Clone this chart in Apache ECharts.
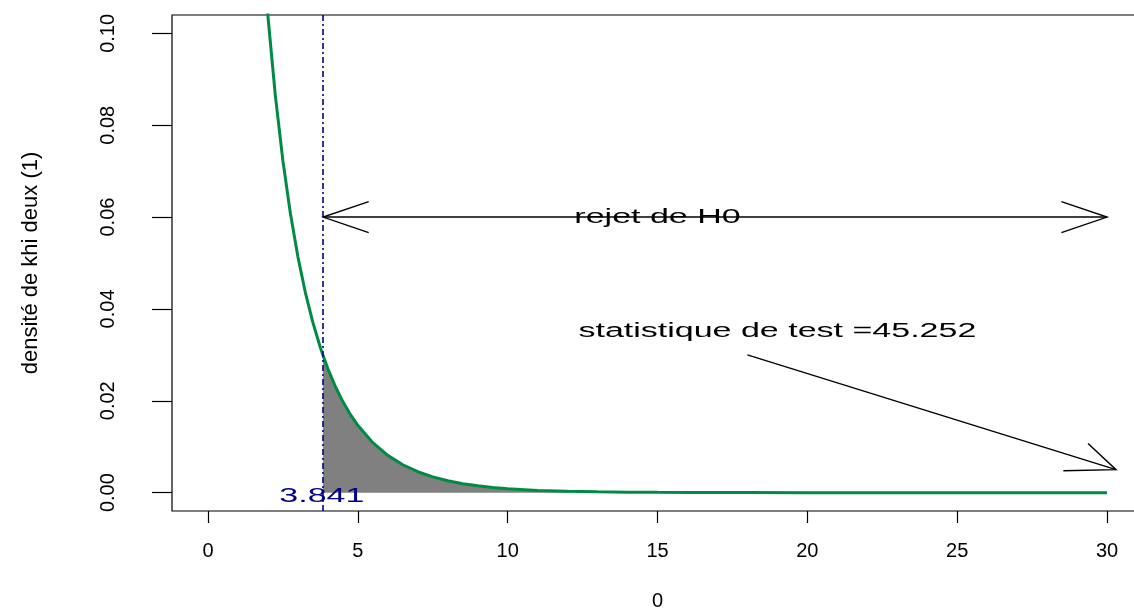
<!DOCTYPE html>
<html><head><meta charset="utf-8">
<script src="https://cdn.jsdelivr.net/npm/echarts@6/dist/echarts.min.js"></script>
<style>html,body{margin:0;padding:0;background:#fff}#c{width:1134px;height:609px}</style>
</head><body><div id="c"></div>
<script>
// chi-square (1 df) density
var xs   = [1.5, 1.75, 2, 2.25, 2.5, 2.75, 3, 3.25, 3.5, 3.75, 3.841, 4, 4.25, 4.5, 4.75, 5, 5.5, 6, 6.5, 7, 7.5, 8, 8.5, 9, 9.5, 10, 11, 12, 13, 14, 15, 16, 18, 20, 25, 30];
var dens = [0.15387, 0.12571, 0.10378, 0.08634, 0.07229, 0.06083, 0.05139, 0.04357, 0.03706, 0.03159, 0.02983, 0.02700, 0.02311, 0.01982, 0.01703, 0.01465, 0.01087, 0.00811, 0.00607, 0.00455, 0.00343, 0.00258, 0.00195, 0.00148, 0.00112, 0.00085, 0.00049, 0.00029, 0.00017, 0.00010, 0.00006, 0.00003, 0.00001, 0, 0, 0];
var criticalValue = 3.841;
var xTicks = [0, 5, 10, 15, 20, 25, 30];
var yTicks = [0, 0.02, 0.04, 0.06, 0.08, 0.10];
var yTickLabels = ['0.00', '0.02', '0.04', '0.06', '0.08', '0.10'];
var xTitle = '0';
var yTitle = 'densité de khi deux (1)';
var noteTexts = ['rejet de H0', 'statistique de test =45.252', '3.841'];
var noteX = [15, 19, 3.8];
var noteY = [0.06, 0.035, -0.0008];
var arrowFrom = [[3.841, 0.06], [18, 0.03]];
var arrowTo   = [[30, 0.06], [30.3, 0.005]];
var arrowBoth = [true, false];

var FONT = '"Liberation Sans", Arial, Helvetica, sans-serif';
var STRETCH = 1.7;   // horizontal stretch of the reference's text/arrowheads
var HEAD = 31;       // arrowhead length (unstretched px)

var curve = xs.map(function (x, i) { return [x, dens[i]]; });
var tail = curve.filter(function (p) { return p[0] >= criticalValue; });

function head(tip, from) {
  var dx = (from[0] - tip[0]) / STRETCH, dy = from[1] - tip[1];
  var len = Math.sqrt(dx * dx + dy * dy); dx /= len; dy /= len;
  var a = Math.PI / 6, pts = [];
  [a, -a].forEach(function (t) {
    var rx = dx * Math.cos(t) - dy * Math.sin(t);
    var ry = dx * Math.sin(t) + dy * Math.cos(t);
    pts.push([tip[0] + rx * HEAD * STRETCH, tip[1] + ry * HEAD]);
  });
  return { type: 'polyline', shape: { points: [pts[0], tip, pts[1]] },
           style: { stroke: '#000', lineWidth: 1.4, fill: null } };
}

var chart = echarts.init(document.getElementById('c'));
chart.setOption({
  animation: false,
  backgroundColor: '#fff',
  grid: { left: 172, width: 971, top: 15, bottom: 98, outerBoundsMode: 'none', containLabel: false,
          show: true, borderColor: '#000', borderWidth: 1.2, backgroundColor: 'transparent' },
  xAxis: {
    type: 'value', min: -1.2, max: 31.2,
    name: xTitle, nameLocation: 'middle', nameGap: 80,
    nameTextStyle: { color: '#000', fontSize: 20, fontFamily: FONT },
    axisLine: { show: false, onZero: false },
    splitLine: { show: false },
    axisTick: { show: true, length: 12, customValues: xTicks, lineStyle: { color: '#000', width: 1.2 } },
    axisLabel: { customValues: xTicks, margin: 30, color: '#000', fontSize: 20, fontFamily: FONT }
  },
  yAxis: {
    type: 'value', min: -0.004, max: 0.104,
    name: yTitle, nameLocation: 'middle', nameGap: 130, nameRotate: 90,
    nameTextStyle: { color: '#000', fontSize: 22, fontFamily: FONT },
    axisLine: { show: false, onZero: false },
    splitLine: { show: false },
    axisTick: { show: true, length: 20, customValues: yTicks, lineStyle: { color: '#000', width: 1.2 } },
    axisLabel: { customValues: yTicks, rotate: 90, margin: 54, color: '#000', fontSize: 20, fontFamily: FONT,
      formatter: function (v) { var i = yTicks.findIndex(function (t) { return Math.abs(t - v) < 1e-9; }); return i >= 0 ? yTickLabels[i] : ''; } }
  },
  series: [
    { type: 'line', data: tail, showSymbol: false, symbol: 'none', z: 1,
      lineStyle: { width: 0 }, areaStyle: { color: '#808080', opacity: 1 } },
    { type: 'line', data: curve, showSymbol: false, symbol: 'none', z: 3, clip: true,
      lineStyle: { color: '#008B45', width: 3 },
      markLine: { symbol: 'none', silent: true, label: { show: false },
        lineStyle: { color: '#00008B', width: 1.6, type: [6, 3, 2, 3] },
        data: [{ xAxis: criticalValue }] } },
    { type: 'custom', z: 5, silent: true,
      data: arrowFrom.map(function (a, i) { return [a[0], a[1], arrowTo[i][0], arrowTo[i][1]]; }),
      encode: { x: [0, 2], y: [1, 3] },
      renderItem: function (params, api) {
        var p1 = api.coord([api.value(0), api.value(1)]);
        var p2 = api.coord([api.value(2), api.value(3)]);
        var ch = [{ type: 'line', shape: { x1: p1[0], y1: p1[1], x2: p2[0], y2: p2[1] },
                    style: { stroke: '#000', lineWidth: 1.4 } }, head(p2, p1)];
        if (arrowBoth[params.dataIndex]) ch.push(head(p1, p2));
        return { type: 'group', children: ch };
      } },
    { type: 'custom', z: 6, silent: true,
      data: noteX.map(function (x, i) { return [x, noteY[i]]; }),
      encode: { x: 0, y: 1 },
      renderItem: function (params, api) {
        var p = api.coord([api.value(0), api.value(1)]);
        var i = params.dataIndex;
        return { type: 'text', x: p[0], y: p[1], scaleX: STRETCH,
          style: { text: noteTexts[i], fill: i === 2 ? '#00008B' : '#000', fontSize: 20, fontFamily: FONT,
                   align: 'center', verticalAlign: 'middle' } };
      } }
  ]
});
</script>
</body></html>
